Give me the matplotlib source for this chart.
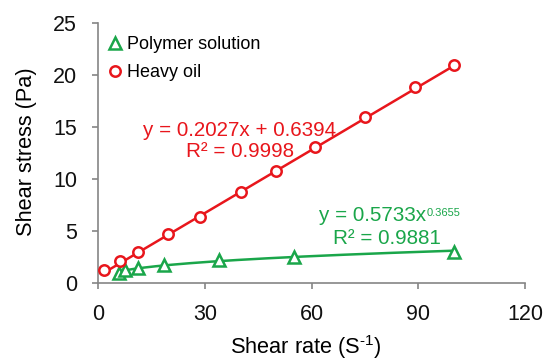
import numpy as np
import matplotlib
matplotlib.use("Agg")
import matplotlib.pyplot as plt

plt.rcParams['font.family'] = ['Liberation Sans', 'DejaVu Sans']
plt.rcParams['mathtext.fontset'] = 'custom'
plt.rcParams['mathtext.rm'] = 'Liberation Sans'
plt.rcParams['mathtext.default'] = 'regular'

#%% data (shear rate in 1/s, shear stress in Pa)
oil_rate = [1.7, 6.1, 11.3, 19.7, 28.6, 40.0, 50.0, 61.0, 75.0, 89.0, 100.0]
oil_stress = [1.25, 2.1, 3.0, 4.65, 6.35, 8.77, 10.76, 13.04, 16.0, 18.87, 20.97]

poly_rate = [5.8, 7.6, 11.3, 18.5, 34.0, 55.0, 100.0]
poly_stress = [0.95, 1.2, 1.45, 1.75, 2.15, 2.45, 2.95]

# trendline coefficients
oil_slope, oil_icpt, oil_r2 = 0.2027, 0.6394, 0.9998
poly_k, poly_n, poly_r2 = 0.5733, 0.3655, 0.9881

RED = '#e8161c'
GREEN = '#1aa64a'
AXCOL = '#858585'
EQ_FS = 14.9

#%% plot
fig = plt.figure(figsize=(5.44, 3.63), dpi=100)
ax = fig.add_axes([0.1807, 0.2212, 0.7844, 0.7146])

xf = np.linspace(min(oil_rate), max(oil_rate), 50)
ax.plot(xf, oil_slope * xf + oil_icpt, color=RED, lw=1.8, zorder=2)
xp = np.linspace(min(poly_rate), max(poly_rate), 200)
ax.plot(xp, poly_k * xp ** poly_n, color=GREEN, lw=1.8, zorder=2)

ax.plot(poly_rate, poly_stress, ls='none', marker='^', ms=8, mfc='white',
        mec=GREEN, mew=1.8, label='Polymer solution', zorder=3)
ax.plot(oil_rate, oil_stress, ls='none', marker='o', ms=7.5, mfc='white',
        mec=RED, mew=1.8, label='Heavy oil', zorder=3)

# linear fit label
ax.text(39.8, 14.64, 'y = %.4fx + %.4f' % (oil_slope, oil_icpt),
        color=RED, fontsize=EQ_FS, ha='center', va='center')
ax.text(39.8, 12.62, 'R² = %.4f' % oil_r2,
        color=RED, fontsize=EQ_FS, ha='center', va='center')

# power fit label, exponent drawn small next to the x
t = ax.text(62.0, 6.45, 'y = %.4fx' % poly_k,
            color=GREEN, fontsize=EQ_FS, ha='left', va='center')
ax.annotate('%.4f' % poly_n, xy=(1.0, 1.0), xycoords=t,
            xytext=(0.5, -1.5), textcoords='offset points',
            color=GREEN, fontsize=8, ha='left', va='top')
ax.text(81.3, 4.28, 'R² = %.4f' % poly_r2,
        color=GREEN, fontsize=EQ_FS, ha='center', va='center')

ax.set_xlim(0, 120)
ax.set_ylim(0, 25)
ax.set_xticks([0, 30, 60, 90, 120])
ax.set_yticks([0, 5, 10, 15, 20, 25])

for s in ['top', 'right']:
    ax.spines[s].set_visible(False)
for s in ['left', 'bottom']:
    ax.spines[s].set_color(AXCOL)
    ax.spines[s].set_linewidth(1.2)
ax.tick_params(direction='out', length=4.3, width=1.2, color=AXCOL,
               labelsize=15.5, labelcolor='#111111')
ax.tick_params(axis='y', pad=11)
ax.tick_params(axis='x', pad=11)

ax.set_xlabel('Shear rate (S$^{\u2010 1}$)', fontsize=15.7)
ax.set_ylabel('Shear stress (Pa)', fontsize=15.7)
ax.xaxis.set_label_coords(0.487, -0.193)
ax.yaxis.set_label_coords(-0.1444, 0.504)

ax.legend(loc='upper left', frameon=False, fontsize=13, handletextpad=0.15,
          handlelength=1.0, borderaxespad=0.2, labelspacing=0.62,
          bbox_to_anchor=(-0.007, 0.993))

fig.savefig('out.png', dpi=100)
